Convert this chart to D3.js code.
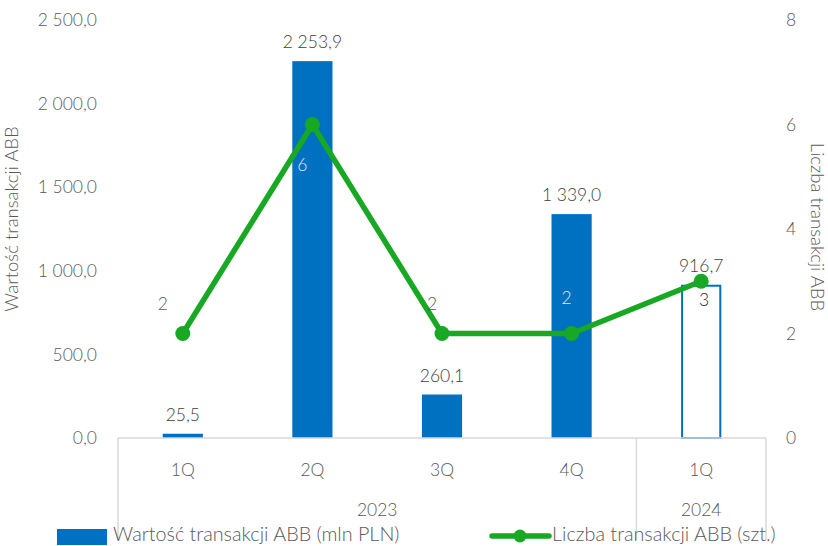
<!DOCTYPE html>
<html>
<head>
<meta charset="utf-8">
<script src="https://cdn.jsdelivr.net/npm/d3@7"></script>
<style>
  body { margin: 0; background: #fff; }
  svg text { font-family: Lato, "Open Sans", sans-serif; font-weight: 300; }
</style>
</head>
<body>
<div id="chart"></div>
<script>
const quarters = ["1Q", "2Q", "3Q", "4Q", "1Q"];
const years = ["2023", "2023", "2023", "2023", "2024"];
const values = [25.5, 2253.9, 260.1, 1339.0, 916.7];
const counts = [2, 6, 2, 2, 3];
const leftTicks = [0, 500, 1000, 1500, 2000, 2500];
const rightTicks = [0, 2, 4, 6, 8];

const width = 828, height = 546;
const margin = { top: 20, right: 62, bottom: 108, left: 118 };
const plotW = width - margin.left - margin.right;
const plotH = height - margin.top - margin.bottom;

const blue = "#0070c0", green = "#18a823", grey = "#595959", lineGrey = "#d9d9d9";

const pl = d3.formatLocale({ decimal: ",", thousands: " ", grouping: [3], currency: ["", ""] });
const fmt = pl.format(",.1f");

const svg = d3.select("#chart").append("svg")
    .attr("width", width)
    .attr("height", height);

const g = svg.append("g")
    .attr("transform", `translate(${margin.left}, ${margin.top})`);

const idx = d3.range(values.length);
const x = d3.scaleBand().domain(idx).range([0, plotW]).paddingInner(0.69).paddingOuter(0.345);
const yL = d3.scaleLinear().domain([0, 2500]).range([plotH, 0]);
const yR = d3.scaleLinear().domain([0, 8]).range([plotH, 0]);
const cx = i => x(i) + x.bandwidth() / 2;

// left axis
const axL = g.append("g")
    .call(d3.axisLeft(yL).tickValues(leftTicks).tickFormat(fmt).tickSize(0).tickPadding(21));
axL.select(".domain").remove();
axL.selectAll("text").attr("fill", grey).style("font-size", "17.5px");

// right axis
const axR = g.append("g")
    .attr("transform", `translate(${plotW}, 0)`)
    .call(d3.axisRight(yR).tickValues(rightTicks).tickFormat(d3.format("d")).tickSize(0).tickPadding(20));
axR.select(".domain").remove();
axR.selectAll("text").attr("fill", grey).style("font-size", "17.5px");

// axis titles
g.append("text")
    .attr("transform", "rotate(-90)")
    .attr("x", -plotH / 2 + 10)
    .attr("y", -100)
    .attr("text-anchor", "middle")
    .attr("fill", grey)
    .style("font-size", "18.5px")
    .text("Wartość transakcji ABB");

g.append("text")
    .attr("transform", "rotate(90)")
    .attr("x", plotH / 2 - 2)
    .attr("y", -plotW - 45)
    .attr("text-anchor", "middle")
    .attr("fill", grey)
    .style("font-size", "18.5px")
    .text("Liczba transakcji ABB");

// bars
g.selectAll("rect.bar")
    .data(idx)
    .join("rect")
    .attr("class", "bar")
    .attr("x", i => i === 4 ? x(i) + 1 : x(i))
    .attr("width", i => i === 4 ? x.bandwidth() - 2 : x.bandwidth())
    .attr("y", i => yL(values[i]) + (i === 4 ? 1 : 0))
    .attr("height", i => plotH - yL(values[i]) - (i === 4 ? 1 : 0))
    .attr("fill", i => i === 4 ? "#fff" : blue)
    .attr("stroke", i => i === 4 ? blue : "none")
    .attr("stroke-width", 2);

// bar labels
g.selectAll("text.vlab")
    .data(idx)
    .join("text")
    .attr("class", "vlab")
    .attr("x", cx)
    .attr("y", i => yL(values[i]) - 13)
    .attr("text-anchor", "middle")
    .attr("fill", "#404040")
    .style("font-size", "17.5px")
    .text(i => fmt(values[i]));

// category axis lines
g.append("line")
    .attr("x1", 0).attr("x2", plotW)
    .attr("y1", plotH).attr("y2", plotH)
    .attr("stroke", lineGrey).attr("stroke-width", 1.5);

const sepX = [0, x.step() * 4, plotW];
g.selectAll("line.sep")
    .data(sepX)
    .join("line")
    .attr("class", "sep")
    .attr("x1", d => d).attr("x2", d => d)
    .attr("y1", plotH).attr("y2", plotH + 102)
    .attr("stroke", lineGrey).attr("stroke-width", 1.5);

g.selectAll("text.qlab")
    .data(idx)
    .join("text")
    .attr("class", "qlab")
    .attr("x", cx)
    .attr("y", plotH + 38)
    .attr("text-anchor", "middle")
    .attr("fill", grey)
    .style("font-size", "17.5px")
    .text(i => quarters[i]);

const yearGroups = d3.groups(idx, i => years[i]);
g.selectAll("text.ylab")
    .data(yearGroups)
    .join("text")
    .attr("class", "ylab")
    .attr("x", d => (cx(d[1][0]) + cx(d[1][d[1].length - 1])) / 2)
    .attr("y", plotH + 78)
    .attr("text-anchor", "middle")
    .attr("fill", grey)
    .style("font-size", "17.5px")
    .text(d => d[0]);

// line series
const line = d3.line().x(cx).y(i => yR(counts[i]));
g.append("path")
    .datum(idx)
    .attr("fill", "none")
    .attr("stroke", green)
    .attr("stroke-width", 5.5)
    .attr("stroke-linejoin", "round")
    .attr("d", line);

g.selectAll("circle.pt")
    .data(idx)
    .join("circle")
    .attr("class", "pt")
    .attr("cx", cx)
    .attr("cy", i => yR(counts[i]))
    .attr("r", 7.5)
    .attr("fill", green);

// line labels
const cOff = [[-20, -24], [-10, 46], [-10, -24], [-5, -30], [3, 25]];
const cCol = [grey, "#e0e8f0", grey, "#e0e8f0", "#262626"];
g.selectAll("text.clab")
    .data(idx)
    .join("text")
    .attr("class", "clab")
    .attr("x", i => cx(i) + cOff[i][0])
    .attr("y", i => yR(counts[i]) + cOff[i][1])
    .attr("text-anchor", "middle")
    .attr("fill", i => cCol[i])
    .style("font-size", "17.5px")
    .text(i => counts[i]);

// legend
const lg = svg.append("g").attr("transform", "translate(0, 536)");
lg.append("rect")
    .attr("x", 57).attr("y", -7).attr("width", 50).attr("height", 16)
    .attr("fill", blue);
lg.append("text")
    .attr("x", 113).attr("y", 5)
    .attr("fill", grey)
    .style("font-size", "19.8px")
    .text("Wartość transakcji ABB (mln PLN)");
lg.append("line")
    .attr("x1", 492).attr("x2", 549).attr("y1", 0).attr("y2", 0)
    .attr("stroke", green).attr("stroke-width", 5.5).attr("stroke-linecap", "round");
lg.append("circle")
    .attr("cx", 520).attr("cy", 0).attr("r", 6.5).attr("fill", green);
lg.append("text")
    .attr("x", 552).attr("y", 5)
    .attr("fill", grey)
    .style("font-size", "19.8px")
    .text("Liczba transakcji ABB (szt.)");
</script>
</body>
</html>
